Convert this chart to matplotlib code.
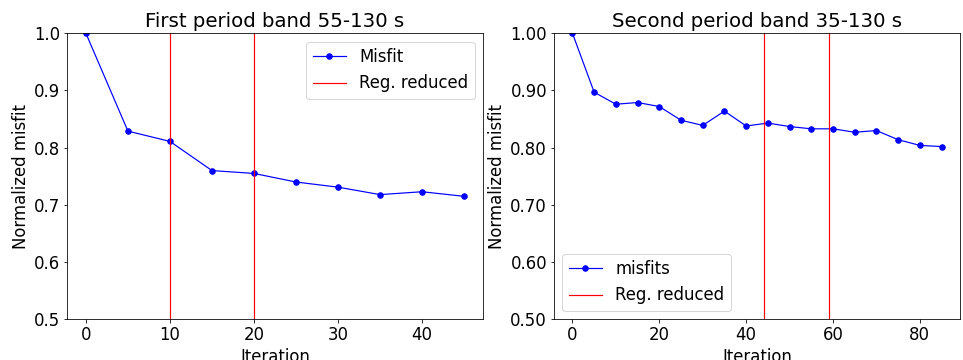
import numpy as np
import matplotlib.pyplot as plt

plt.rcParams['font.size'] = 16.5

# first band
iter1 = [0, 5, 10, 15, 20, 25, 30, 35, 40, 45]
misfit1 = [1.0, 0.829, 0.811, 0.760, 0.755, 0.740, 0.731, 0.718, 0.723, 0.715]
reg1 = [10, 20]

# second band
iter2 = [0, 5, 10, 15, 20, 25, 30, 35, 40, 45, 50, 55, 60, 65, 70, 75, 80, 85]
misfit2 = [1.0, 0.897, 0.876, 0.879, 0.872, 0.848, 0.839, 0.864, 0.838, 0.843,
           0.837, 0.833, 0.833, 0.827, 0.830, 0.814, 0.804, 0.802]
reg2 = [44, 59]

fig = plt.figure(figsize=(963 / 72, 360 / 72), dpi=72)
ax1 = fig.add_axes([67 / 963, 1 - 319.3 / 360, 416 / 963, 286 / 360])
ax2 = fig.add_axes([554 / 963, 1 - 319.3 / 360, 406 / 963, 286 / 360])

ax1.plot(iter1, misfit1, 'b-', marker='o', markersize=5.5, linewidth=1.2, label='Misfit')
for i, x in enumerate(reg1):
    ax1.axvline(x, color='red', linewidth=1.2, label='Reg. reduced' if i == 0 else None)
ax1.set_ylim(0.5, 1.0)
ax1.set_title('First period band 55-130 s')
ax1.set_xlabel('Iteration')
ax1.set_ylabel('Normalized misfit')
ax1.legend(loc='upper right')

ax2.plot(iter2, misfit2, 'b-', marker='o', markersize=5.5, linewidth=1.2, label='misfits')
for i, x in enumerate(reg2):
    ax2.axvline(x, color='red', linewidth=1.2, label='Reg. reduced' if i == 0 else None)
ax2.set_ylim(0.5, 1.0)
ax2.set_yticks([0.5, 0.6, 0.7, 0.8, 0.9, 1.0])
ax2.set_yticklabels(['%.2f' % v for v in [0.5, 0.6, 0.7, 0.8, 0.9, 1.0]])
ax2.set_title('Second period band 35-130 s')
ax2.set_xlabel('Iteration')
ax2.set_ylabel('Normalized misfit')
ax2.legend(loc='lower left')

plt.savefig('out.png', dpi=72)
